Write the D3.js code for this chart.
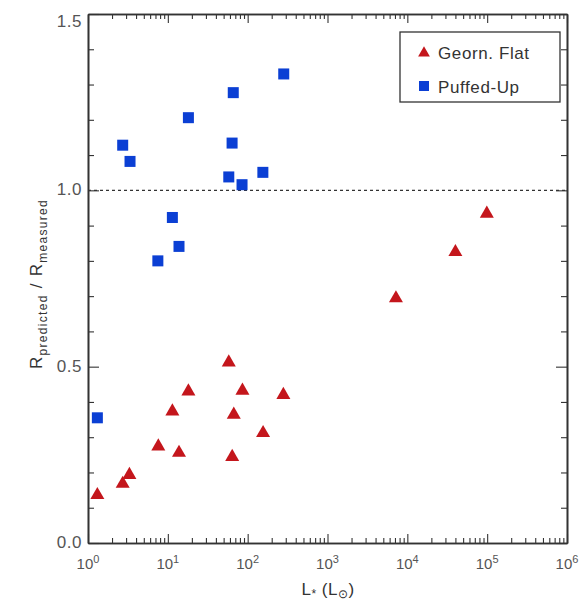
<!DOCTYPE html>
<html>
  <script src="https://d3js.org/d3.v7.js"></script>
  <body style="margin:0;background:#fff">
    <svg id="myPlot" width="586" height="603"></svg>
    <script>
      // data
      const flatL = [1.31, 2.72, 3.3, 7.6, 11.4, 13.8, 18.1, 58, 67, 64, 86, 156, 280, 7200, 40000, 99000];
      const flatR = [0.136, 0.168, 0.193, 0.274, 0.373, 0.256, 0.43, 0.512, 0.364, 0.244, 0.432, 0.312, 0.42, 0.694, 0.825, 0.934];
      const puffL = [1.31, 2.72, 3.36, 18.1, 66, 63.8, 58, 85, 155, 283, 11.4, 13.8, 7.5];
      const puffR = [0.355, 1.128, 1.082, 1.206, 1.277, 1.134, 1.038, 1.016, 1.051, 1.33, 0.923, 0.841, 0.80];
      const xMajor = [0, 1, 2, 3, 4, 5, 6];
      const yMajor = [0.0, 0.5, 1.0, 1.5];
      const legendLabels = ["Georn. Flat", "Puffed-Up"];

      const red = "#c4161c", blue = "#0b3fd4", ink = "#333", txt = "#555";
      const pLeft = 88, pRight = 567, pTop = 14, pBottom = 543;

      const svg = d3.select("#myPlot").style("font-family", "Liberation Sans, Arial, sans-serif");

      const x = d3.scaleLog().domain([1, 1e6]).range([pLeft, pRight]);
      const y = d3.scaleLinear().domain([0, 1.5]).range([pBottom, pTop]);

      const minorX = [];
      xMajor.slice(0, -1).forEach(function (e) {
        for (let k = 2; k <= 9; k++) minorX.push(k * Math.pow(10, e));
      });
      const majorX = xMajor.map(function (e) { return Math.pow(10, e); });
      const minorY = d3.range(0, 16).map(function (i) { return i / 10; }).filter(function (v) { return Math.round(v * 10) % 5 != 0; });

      function styleAxis(g) {
        g.select(".domain").attr("stroke", ink).attr("stroke-width", 1.6);
        g.selectAll(".tick line").attr("stroke", ink).attr("stroke-width", 1.1);
        g.selectAll(".tick text").remove();
      }

      // bottom / top axes
      [[d3.axisBottom, pBottom], [d3.axisTop, pTop]].forEach(function (a) {
        svg.append("g").attr("transform", "translate(0," + a[1] + ")")
          .call(a[0](x).tickValues(majorX).tickSize(-9).tickSizeOuter(0))
          .call(styleAxis);
        svg.append("g").attr("transform", "translate(0," + a[1] + ")")
          .call(a[0](x).tickValues(minorX).tickSize(-5).tickSizeOuter(0))
          .call(styleAxis);
      });
      // left / right axes
      [[d3.axisLeft, pLeft], [d3.axisRight, pRight]].forEach(function (a) {
        svg.append("g").attr("transform", "translate(" + a[1] + ",0)")
          .call(a[0](y).tickValues(yMajor).tickSize(-11).tickSizeOuter(0))
          .call(styleAxis);
        svg.append("g").attr("transform", "translate(" + a[1] + ",0)")
          .call(a[0](y).tickValues(minorY).tickSize(-6).tickSizeOuter(0))
          .call(styleAxis);
      });

      // x tick labels 10^n
      const xl = svg.append("g").selectAll("text").data(xMajor).enter().append("text")
        .attr("x", function (d) { return x(Math.pow(10, d)); })
        .attr("y", 569).attr("text-anchor", "middle").attr("fill", txt).attr("font-size", 15);
      xl.append("tspan").text("10");
      xl.append("tspan").attr("dy", -6).attr("font-size", 11).text(function (d) { return d; });

      // y tick labels (top one sits a little lower, as in the figure)
      svg.append("g").selectAll("text").data(yMajor).enter().append("text")
        .attr("x", 82).attr("y", function (d) { return Math.max(y(d) + 5, 27); })
        .attr("text-anchor", "end").attr("fill", txt).attr("font-size", 17)
        .attr("letter-spacing", 0.5)
        .text(function (d) { return d.toFixed(1); });

      // dashed line at 1
      svg.append("line").attr("x1", pLeft).attr("x2", pRight)
        .attr("y1", y(1)).attr("y2", y(1))
        .attr("stroke", ink).attr("stroke-width", 1.2).attr("stroke-dasharray", "3,3");

      // markers
      const tri = d3.symbol().type(d3.symbolTriangle).size(85);
      svg.append("g").selectAll("path").data(flatL).enter().append("path")
        .attr("d", tri)
        .attr("transform", function (d, i) { return "translate(" + x(d) + "," + y(flatR[i]) + ")"; })
        .attr("fill", red);
      svg.append("g").selectAll("rect").data(puffL).enter().append("rect")
        .attr("x", function (d) { return x(d) - 5.5; })
        .attr("y", function (d, i) { return y(puffR[i]) - 5.5; })
        .attr("width", 11).attr("height", 11).attr("fill", blue);

      // legend
      svg.append("rect").attr("x", 400).attr("y", 32).attr("width", 160).attr("height", 70)
        .attr("fill", "#fff").attr("stroke", ink).attr("stroke-width", 1.3);
      svg.append("path").attr("d", d3.symbol().type(d3.symbolTriangle).size(60))
        .attr("transform", "translate(424,53)").attr("fill", red);
      svg.append("rect").attr("x", 419).attr("y", 81).attr("width", 10).attr("height", 10).attr("fill", blue);
      svg.append("g").selectAll("text").data(legendLabels).enter().append("text")
        .attr("x", 438).attr("y", function (d, i) { return 59 + i * 34; })
        .attr("fill", ink).attr("font-size", 17).attr("letter-spacing", 0.6)
        .text(function (d) { return d; });

      // axis titles
      const xt = svg.append("text").attr("x", 328).attr("y", 595).attr("text-anchor", "middle")
        .attr("fill", ink).attr("font-size", 17).attr("letter-spacing", 0.5);
      xt.append("tspan").text("L");
      xt.append("tspan").attr("dy", 3).attr("font-size", 12).text("*");
      xt.append("tspan").attr("dy", -3).text(" (L");
      xt.append("tspan").attr("dy", 3).attr("font-size", 12).text("⊙");
      xt.append("tspan").attr("dy", -3).text(")");

      const yt = svg.append("text").attr("transform", "translate(42,284) rotate(-90)")
        .attr("text-anchor", "middle").attr("fill", ink).attr("font-size", 17)
        .attr("letter-spacing", 1.3);
      yt.append("tspan").text("R");
      yt.append("tspan").attr("dy", 5).attr("font-size", 12).text("predicted");
      yt.append("tspan").attr("dy", -5).text(" / R");
      yt.append("tspan").attr("dy", 5).attr("font-size", 12).text("measured");
    </script>
  </body>
</html>
